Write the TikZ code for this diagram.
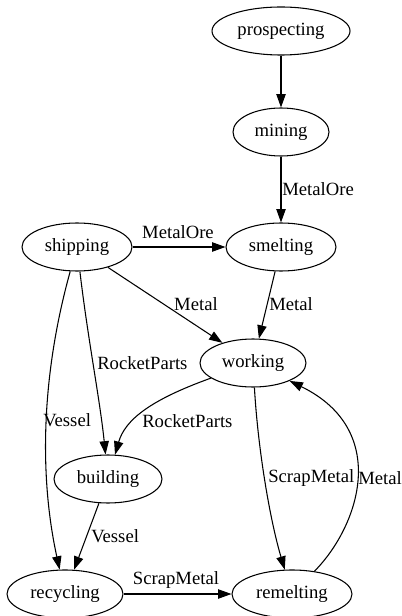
\documentclass[tikz,border=0pt]{standalone}
\usepackage{fontspec}
\setmainfont{Liberation Serif}
\usetikzlibrary{arrows.meta,shapes.geometric}

\tikzset{
  stage/.style={ellipse, draw, line width=0.8pt, minimum height=36pt, inner sep=0pt, font=\fontsize{14}{16}\selectfont},
  flow/.style={line width=0.8pt, -{Triangle[length=10pt,width=7pt]}},
  tag/.style={inner sep=0pt, font=\fontsize{14}{16}\selectfont}
}

\begin{document}
\begin{tikzpicture}[x=0.75pt, y=-0.75pt]
    \useasboundingbox (0,0) rectangle (401,616);

    % the stages
    \node[stage, minimum width=103.5pt] (prosp) at (281,31) {prospecting};
    \node[stage, minimum width=72pt] (mine) at (281,132) {mining};
    \node[stage, minimum width=82.5pt] (smelt) at (281,247) {smelting};
    \node[stage, minimum width=82.5pt] (ship) at (77,247) {shipping};
    \node[stage, minimum width=79.5pt] (work) at (253,363) {working};
    \node[stage, minimum width=81pt] (build) at (108,479) {building};
    \node[stage, minimum width=87pt] (recy) at (65,594) {recycling};
    \node[stage, minimum width=90pt] (remelt) at (292,594) {remelting};

    % straight flows
    \draw[flow] (prosp) -- (mine);
    \draw[flow] (mine) -- (smelt);
    \draw[flow] (ship) -- (smelt);
    \draw[flow] (ship) -- (work);
    \draw[flow] (smelt) -- (work);
    \draw[flow] (build) -- (recy);
    \draw[flow] (recy) -- (remelt);

    % bent flows
    \draw[flow] (ship) .. controls (88,340) and (100,400) .. (build);
    \draw[flow] (ship) .. controls (40,380) and (40,480) .. (recy);
    \draw[flow] (work) .. controls (150,400) and (125,420) .. (build);
    \draw[flow] (work) .. controls (258,450) and (270,520) .. (remelt);
    % loop back from remelting up to working
    \draw[flow] (remelt) .. controls (360,525) and (390,430) .. (work);

    % labels of the flows
    \node[tag, anchor=west] (oreA) at (282,189) {MetalOre};
    \node[tag] (oreB) at (178,232) {MetalOre};
    \node[tag] (metA) at (196,304) {Metal};
    \node[tag, anchor=west] (metB) at (269,304) {Metal};
    \node[tag, anchor=west] (partsA) at (97,363) {RocketParts};
    \node[tag, anchor=west] (vesA) at (43,420) {Vessel};
    \node[tag, anchor=west] (partsB) at (142,421) {RocketParts};
    \node[tag, anchor=west] (scrapA) at (268,478) {ScrapMetal};
    \node[tag, anchor=west] (metC) at (358,478) {Metal};
    \node[tag, anchor=west] (vesB) at (91,536) {Vessel};
    \node[tag] (scrapB) at (176,580) {ScrapMetal};
\end{tikzpicture}
\end{document}
